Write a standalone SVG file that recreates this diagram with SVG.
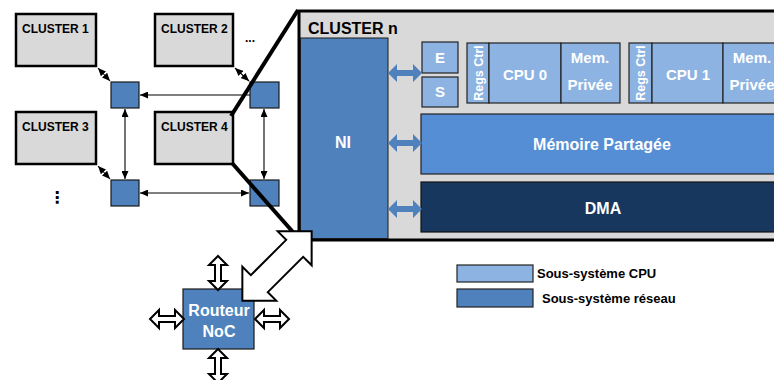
<svg xmlns="http://www.w3.org/2000/svg" width="774" height="380" viewBox="0 0 774 380">
<style>
text{font-family:"Liberation Sans",Arial,sans-serif;font-weight:bold}
.cl{fill:#d9d9d9;stroke:#000;stroke-width:2.5}
.cl-t{font-size:12px;fill:#000}
.sq{fill:#4f81bd;stroke:#1a1a1a;stroke-width:1.2}
.cpu{fill:#8db3e2;stroke:#222;stroke-width:1.2}
.wt{fill:#fff;font-size:15px;text-anchor:middle}
.thin{stroke:#000;stroke-width:1.1;fill:none;marker-end:url(#ah)}
.both{marker-start:url(#ah)}
.zoom{stroke:#000;stroke-width:4;fill:none}
.hol{fill:#fff;stroke:#000;stroke-width:2;stroke-linejoin:miter}
.leg{font-size:13px;fill:#000}
</style>
<defs>
<marker id="ah" markerUnits="userSpaceOnUse" markerWidth="8" markerHeight="7" refX="8" refY="3.5" orient="auto-start-reverse">
<path d="M0,0 L8,3.5 L0,7 z" fill="#000"/>
</marker>
<path id="barrow" d="M0,0 L9,-9 L9,-3 L25,-3 L25,-9 L34,0 L25,9 L25,3 L9,3 L9,9 Z" fill="#4f81bd"/>
<path id="harrow" class="hol" d="M0,-17 L9,-8 L3,-8 L3,8 L9,8 L0,17 L-9,8 L-3,8 L-3,-8 L-9,-8 Z"/>
</defs>

<g id="cluster1"><rect class="cl" x="16" y="14" width="80" height="52"/><text class="cl-t" x="22" y="33">CLUSTER 1</text></g>
<g id="cluster2"><rect class="cl" x="155" y="14" width="78" height="52"/><text class="cl-t" x="161" y="33">CLUSTER 2</text></g>
<g id="cluster3"><rect class="cl" x="16" y="112" width="80" height="52"/><text class="cl-t" x="22" y="131">CLUSTER 3</text></g>
<g id="cluster4"><rect class="cl" x="155" y="112" width="78" height="52"/><text class="cl-t" x="161" y="131">CLUSTER 4</text></g>
<g id="dots"><text x="245" y="42" style="font-size:12px">...</text><text x="49" y="203" style="font-family:'DejaVu Sans',sans-serif;font-size:16px;font-weight:bold">⋮</text></g>

<g id="r-tl"><rect class="sq" x="111" y="82" width="28" height="26"/></g>
<g id="r-tr"><rect class="sq" x="250" y="82" width="29" height="26"/></g>
<g id="r-bl"><rect class="sq" x="111" y="180" width="28" height="26"/></g>
<g id="r-br"><rect class="sq" x="250" y="180" width="29" height="26"/></g>

<g id="connectors">
<line class="thin both" x1="98" y1="68" x2="110" y2="81"/>
<line class="thin both" x1="235" y1="68" x2="249" y2="81"/>
<line class="thin both" x1="98" y1="166" x2="110" y2="179"/>
<line class="thin" x1="250" y1="95" x2="140" y2="95"/>
<line class="thin both" x1="125" y1="109" x2="125" y2="179"/>
<line class="thin both" x1="264" y1="109" x2="264" y2="179"/>
<line class="thin both" x1="140" y1="193" x2="249" y2="193"/>
</g>

<g id="clusterN">
<rect x="299" y="11" width="500" height="229" fill="#d9d9d9" stroke="#000" stroke-width="3"/>
<text x="308" y="34" style="font-size:16px;fill:#000">CLUSTER n</text>
</g>
<g id="ni"><rect x="300.5" y="38" width="87.5" height="200.5" fill="#4f81bd" stroke="#1a1a1a" stroke-width="1"/><text class="wt" x="343" y="148" style="font-size:16px">NI</text></g>
<g id="e"><rect class="cpu" x="422" y="42" width="36" height="31"/><text class="wt" x="440" y="63">E</text></g>
<g id="s"><rect class="cpu" x="422" y="77" width="36" height="30"/><text class="wt" x="440" y="97">S</text></g>
<g id="cpu0grp">
<rect class="cpu" x="467" y="43" width="22" height="60"/>
<text class="wt" transform="translate(482.5,73) rotate(-90)" style="font-size:12.5px">Regs Ctrl</text>
<rect class="cpu" x="489" y="43" width="72" height="60"/><text class="wt" x="525" y="80">CPU 0</text>
<rect class="cpu" x="561" y="43" width="59" height="60"/><text class="wt" x="590" y="63">Mem.</text><text class="wt" x="590" y="90">Privée</text>
</g>
<g id="cpu1grp">
<rect class="cpu" x="629" y="43" width="23" height="60"/>
<text class="wt" transform="translate(645,73) rotate(-90)" style="font-size:12.5px">Regs Ctrl</text>
<rect class="cpu" x="652" y="43" width="71" height="60"/><text class="wt" x="688" y="80">CPU 1</text>
<rect class="cpu" x="723" y="43" width="59" height="60"/><text class="wt" x="752" y="63">Mem.</text><text class="wt" x="752" y="90">Privée</text>
</g>
<g id="shmem"><rect x="421" y="114" width="370" height="60" fill="#558ed5" stroke="#222" stroke-width="1.2"/><text class="wt" x="602" y="150" style="font-size:16px">Mémoire Partagée</text></g>
<g id="dma"><rect x="421" y="182" width="370" height="50" fill="#17375e" stroke="#111" stroke-width="1.2"/><text class="wt" x="603" y="214" style="font-size:16px">DMA</text></g>
<g id="ni-links">
<use href="#barrow" x="388" y="73"/>
<use href="#barrow" x="388" y="143"/>
<use href="#barrow" x="388" y="209"/>
</g>

<g id="zoom-lines">
<line class="zoom" x1="231" y1="116" x2="298" y2="10"/>
<line class="zoom" x1="232" y1="163" x2="300" y2="240"/>
</g>

<g id="router">
<rect x="183" y="289" width="71" height="60" fill="#4f81bd" stroke="#1a1a1a" stroke-width="1.2"/>
<text class="wt" x="219" y="316" style="font-size:16px">Routeur</text>
<text class="wt" x="219" y="337" style="font-size:16px">NoC</text>
</g>
<g id="router-links">
<use href="#harrow" transform="translate(218,273)"/>
<use href="#harrow" transform="translate(218,366)"/>
<use href="#harrow" transform="translate(167,319) rotate(90)"/>
<use href="#harrow" transform="translate(272,319) rotate(90)"/>
<path class="hol" stroke-width="2.5" transform="translate(277,266) rotate(-45)" d="M-49,0 L-25,-24 L-25,-12 L25,-12 L25,-24 L49,0 L25,24 L25,12 L-25,12 L-25,24 Z"/>
</g>

<g id="legend">
<rect x="457" y="265" width="76" height="17" fill="#8db3e2" stroke="#222" stroke-width="1.2"/>
<text class="leg" x="537" y="278">Sous-système CPU</text>
<rect x="457" y="289" width="76" height="18" fill="#4f81bd" stroke="#222" stroke-width="1.2"/>
<text class="leg" x="542" y="303">Sous-système réseau</text>
</g>
</svg>
